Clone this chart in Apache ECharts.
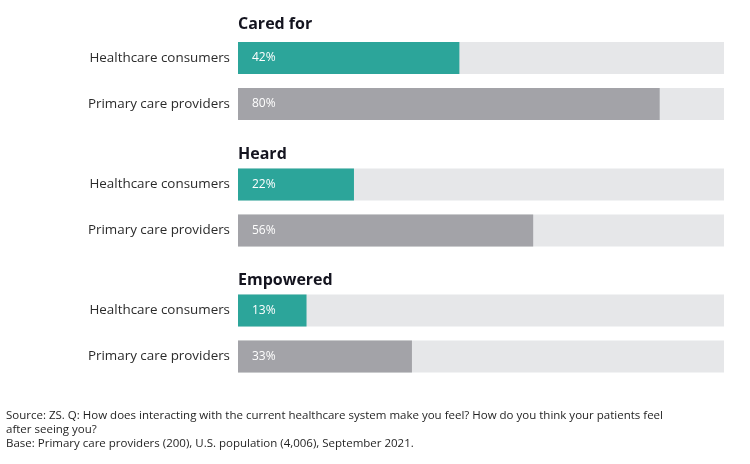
<!DOCTYPE html>
<html>
<head>
<meta charset="utf-8">
<script src="https://cdn.jsdelivr.net/npm/echarts@6/dist/echarts.min.js"></script>
<style>html,body{margin:0;padding:0;background:#fff;}#c{width:750px;height:464px;}</style>
</head>
<body>
<div id="c"></div>
<script>
const groups = ['Cared for', 'Heard', 'Empowered'];
const categories = ['Healthcare consumers', 'Primary care providers'];
const consumers = [42, 22, 13];
const providers = [80, 56, 33];
const scaleMax = 92.2;
const footerLines = [
  'Source: ZS. Q: How does interacting with the current healthcare system make you feel? How do you think your patients feel',
  'after seeing you?',
  'Base: Primary care providers (200), U.S. population (4,006), September 2021.'
];

const tealColor = '#2ca59a';
const greyColor = '#a3a3a8';
const gridTops = [35, 161.5, 287.5];
const titleTops = [11, 141, 267];

const chart = echarts.init(document.getElementById('c'), null, {renderer: 'canvas'});
const grids = [], xAxes = [], yAxes = [], series = [], titles = [];
groups.forEach((g, i) => {
  grids.push({left: 238, right: 26, top: gridTops[i], height: 92});
  xAxes.push({type: 'value', gridIndex: i, min: 0, max: scaleMax, show: false});
  yAxes.push({
    type: 'category', gridIndex: i, data: categories, inverse: true,
    axisLine: {show: false}, axisTick: {show: false}, splitLine: {show: false},
    axisLabel: {fontFamily: 'Open Sans', fontSize: 13.4, color: '#2b2b2b', margin: 8}
  });
  series.push({
    type: 'bar', xAxisIndex: i, yAxisIndex: i, barWidth: 32,
    showBackground: true, backgroundStyle: {color: '#e6e7e9'},
    data: [
      {value: consumers[i], itemStyle: {color: tealColor}},
      {value: providers[i], itemStyle: {color: greyColor}}
    ],
    label: {show: true, position: 'insideLeft', distance: 14, formatter: '{c}%',
      color: '#ffffff', fontFamily: 'Open Sans', fontSize: 12},
    silent: true
  });
  titles.push({text: g, left: 233, top: titleTops[i],
    textStyle: {fontFamily: 'Open Sans', fontWeight: 'bold', fontSize: 16, color: '#14141f'}});
});

const footer = {
  type: 'text', x: 6, y: 409,
  style: {text: footerLines.join('\n'), fontFamily: 'Open Sans',
    fontSize: 11.5, lineHeight: 13.7, fill: '#1f1f1f'}
};

chart.setOption({
  animation: false,
  title: titles,
  grid: grids, xAxis: xAxes, yAxis: yAxes, series: series,
  graphic: [footer]
});
</script>
</body>
</html>
